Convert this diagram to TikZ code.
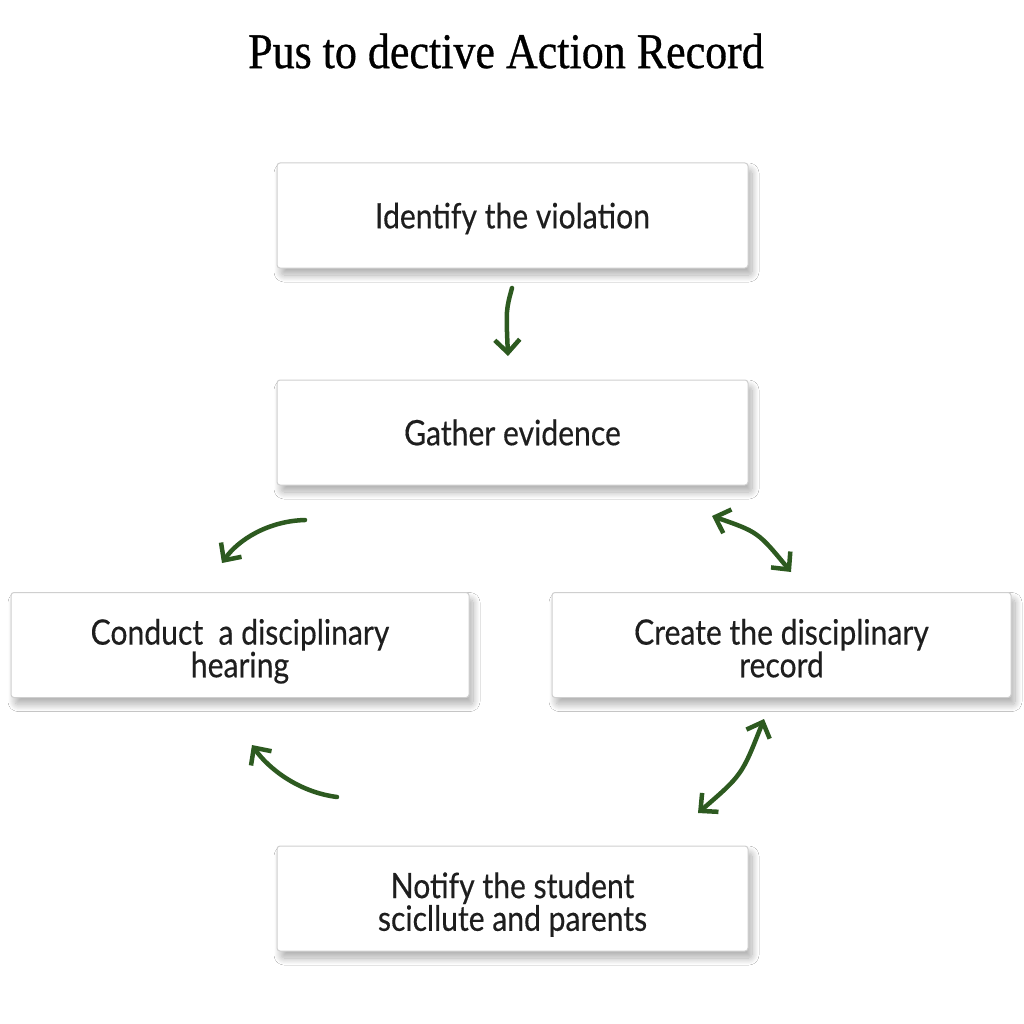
\documentclass[tikz,border=0pt]{standalone}
\usepackage{fontspec}
\setmainfont{Liberation Serif}
\newfontfamily\titlefont[FakeStretch=0.88,FakeBold=0.6]{Liberation Serif}
\newfontfamily\boxfont[FakeStretch=0.86,FakeBold=0.35]{Lato}
\usetikzlibrary{arrows.meta,shadows.blur}
\definecolor{arrowgreen}{HTML}{2D5A20}
\definecolor{boxedge}{HTML}{CFCFCF}
\definecolor{boxtext}{HTML}{1E1E1E}
\newcommand{\twolines}[2]{\raisebox{-8pt}[\height][\depth]{\begin{tabular}{@{}c@{}}#1\\[-3pt]#2\end{tabular}}}
\newcommand{\oneline}[1]{\raisebox{-3pt}[\height][\depth]{#1}}
\tikzset{
  stepbox/.style={draw=boxedge, line width=1pt, fill=white, rounded corners=3pt,
    minimum height=105pt, align=center, text=boxtext,
    font=\boxfont\fontsize{35}{33}\selectfont,
    blur shadow={shadow xshift=4pt, shadow yshift=-7pt, shadow blur radius=7pt, shadow blur steps=14, shadow opacity=32}},
  flow/.style={draw=arrowgreen, line width=4.5pt, line cap=round,
    -{Straight Barb[length=13pt,width=25pt,line width=4.5pt]}},
  flowboth/.style={flow, {Straight Barb[length=13pt,width=25pt,line width=4.5pt]}-{Straight Barb[length=13pt,width=25pt,line width=4.5pt]}}
}
\begin{document}
\begin{tikzpicture}[x=1pt,y=-1pt]
\useasboundingbox[fill=white] (0,0) rectangle (1024,1024);
\node (title) at (506,51) {\titlefont\fontsize{50}{54}\selectfont Pus to dective Action Record};
\node[stepbox, minimum width=471pt] (identify) at (512.5,215.5) {\oneline{Identify the violation}};
\node[stepbox, minimum width=471pt] (gather) at (512.5,432.5) {Gather evidence};
\node[stepbox, minimum width=458pt] (hearing) at (240,645) {\twolines{Conduct\ \ a disciplinary}{hearing}};
\node[stepbox, minimum width=459pt] (record) at (781.5,645) {\twolines{Create the disciplinary}{record}};
\node[stepbox, minimum width=471pt] (notify) at (512.5,898.5) {\twolines{Notify the student}{scicllute and parents}};
\coordinate (a1s) at (512,288);
\coordinate (a1e) at (508,356);
\coordinate (a2s) at (305,520);
\coordinate (a2e) at (222,563);
\coordinate (a3s) at (712,516);
\coordinate (a3e) at (791,572);
\coordinate (a4s) at (337,797);
\coordinate (a4e) at (252,745);
\coordinate (a5s) at (764,719);
\coordinate (a5e) at (698,813);
\draw[flow] (a1s) .. controls (506,310) .. (a1e);
\draw[flow] (a2s) .. controls (268,521) and (238,540) .. (a2e);
\draw[flowboth] (a3s) .. controls (758,532) .. (a3e);
\draw[flow] (a4s) .. controls (298,792) and (268,768) .. (a4e);
\draw[flowboth] (a5s) .. controls (742,775) .. (a5e);
\end{tikzpicture}
\end{document}
